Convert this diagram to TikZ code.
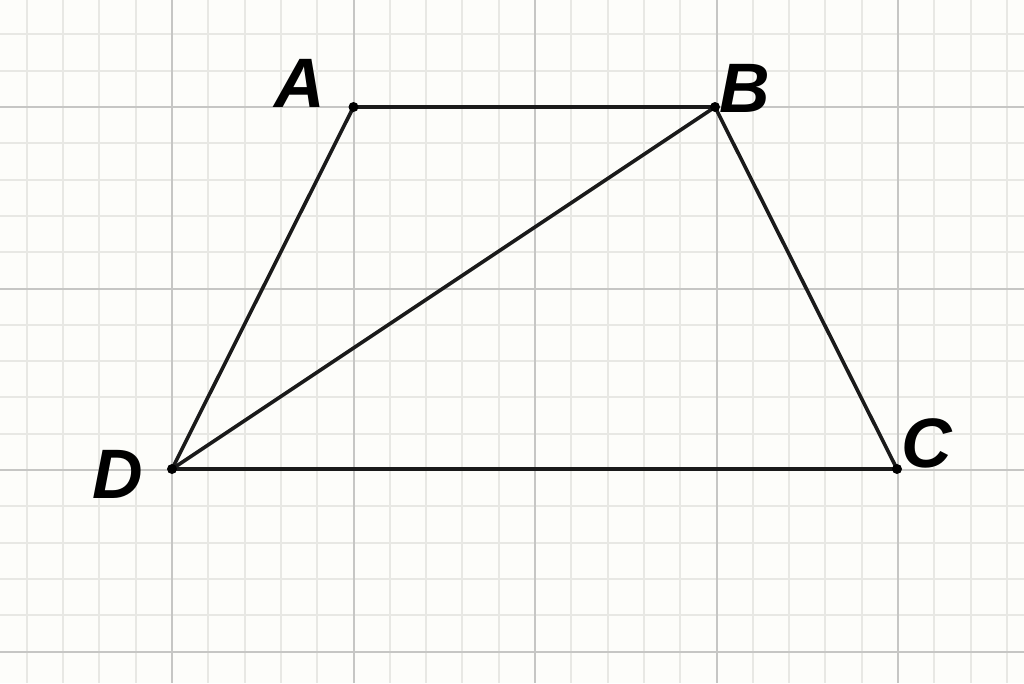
\documentclass[tikz,border=0pt]{standalone}
\usepackage{fontspec}
\setmainfont{Liberation Sans}
\definecolor{bg}{HTML}{FDFDFA}
\definecolor{minorg}{HTML}{E8E8E4}
\definecolor{majorg}{HTML}{C6C6C4}
\definecolor{ink}{HTML}{1A1A1A}
\begin{document}
\begin{tikzpicture}[x=1pt,y=-1pt,
  minorline/.style={draw=minorg,line width=2pt},
  majorline/.style={draw=majorg,line width=2pt},
  edge/.style={draw=ink,line width=3.6pt,line cap=round},
  pt/.style={circle,fill=black,inner sep=0pt,minimum size=10pt},
  lbl/.style={inner sep=0pt,font=\fontsize{70}{70}\selectfont\bfseries\itshape}]
\useasboundingbox (0,0) rectangle (1024,683);
\fill[bg] (0,0) rectangle (1024,683);
% minor grid
\foreach \i in {-4,...,23} {
  \draw[minorline] ({172+36.3*\i},0) -- ({172+36.3*\i},683);
}
\foreach \j in {-2,...,16} {
  \draw[minorline] (0,{107+36.3*\j}) -- (1024,{107+36.3*\j});
}
% major grid
\foreach \i in {0,...,4} {
  \draw[majorline] ({172+181.5*\i},0) -- ({172+181.5*\i},683);
}
\foreach \j in {0,...,3} {
  \draw[majorline] (0,{107+181.5*\j}) -- (1024,{107+181.5*\j});
}
\coordinate (A) at (353.5,107);
\coordinate (B) at (715,107);
\coordinate (C) at (897,469);
\coordinate (D) at (172,469);
\draw[edge] (A) -- (B) -- (C) -- (D) -- cycle;
\draw[edge] (D) -- (B);
\node[pt] (pA) at (A) {};
\node[pt] (pB) at (B) {};
\node[pt] (pC) at (C) {};
\node[pt] (pD) at (D) {};
\node[lbl] (lA) at (300,83) {A};
\node[lbl] (lB) at (745,88) {B};
\node[lbl] (lC) at (927,443) {C};
\node[lbl] (lD) at (118,474) {D};
\end{tikzpicture}
\end{document}
